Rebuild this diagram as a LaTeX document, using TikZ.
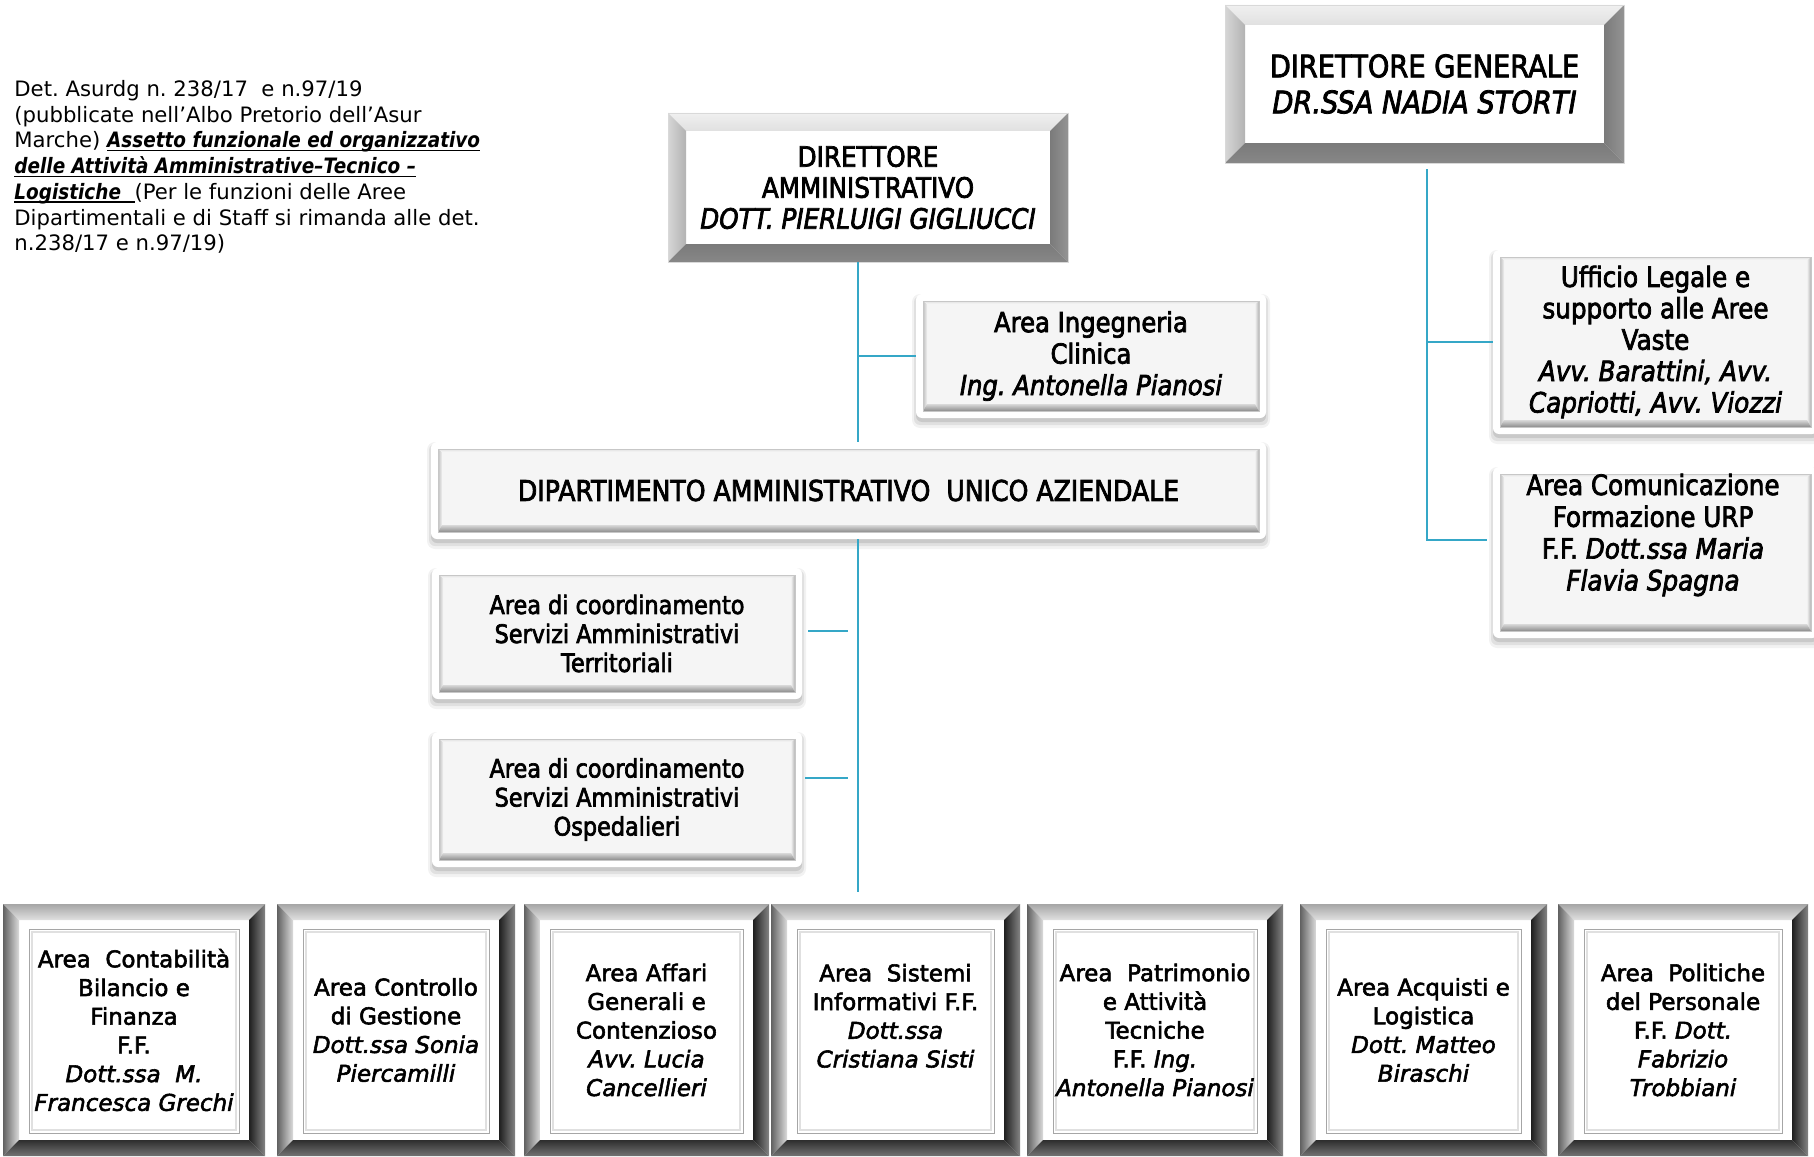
\documentclass[tikz,border=0pt]{standalone}
\usepackage{fontspec}
\setmainfont{DejaVu Sans}
\newfontfamily\condf{DejaVu Sans}[FakeStretch=0.88, FakeBold=2.6]
\newfontfamily\boxf{DejaVu Sans}[FakeBold=2.4]
\newfontfamily\embf{DejaVu Sans}[FakeStretch=0.87]
\usetikzlibrary{calc}
\pgfdeclarelayer{bg}
\pgfsetlayers{bg,main}
\definecolor{connc}{HTML}{35A7C7}
\frenchspacing
\newsavebox\ulbox
\newcommand\myul[1]{\sbox\ulbox{#1}\rlap{\rule[-1.7pt]{\wd\ulbox}{0.7pt}}\usebox\ulbox}
\newcommand\embi[1]{{\embf\bfseries\itshape #1}}

\tikzset{
  geom/.style 2 args={shape=rectangle, minimum width=#1*0.5pt, minimum height=#2*0.5pt,
     inner sep=0pt, outer sep=0pt, align=center},
  conn/.style={draw=connc, line width=1pt},
  btm/.style={font=\boxf\fontsize{11.5pt}{14.35pt}\selectfont},
  notefont/.style={font=\fontsize{10.6pt}{12.85pt}\selectfont, align=left, inner sep=0pt}
}

\newcommand\corners[2]{%
  \path (#1.north west) coordinate (o1);
  \path (#1.north east) coordinate (o2);
  \path (#1.south east) coordinate (o3);
  \path (#1.south west) coordinate (o4);
  \path ($(o1)+(#2,#2)$) coordinate (i1);
  \path ($(o2)+(-#2,#2)$) coordinate (i2);
  \path ($(o3)+(-#2,-#2)$) coordinate (i3);
  \path ($(o4)+(#2,-#2)$) coordinate (i4);
}

\newcommand\hardbevel[2]{%
  \begin{pgfonlayer}{bg}
  \corners{#1}{#2}
  \fill[white] (i1) rectangle (i3);
  \shade[top color=black!6, bottom color=black!12] (o1)--(o2)--(i2)--(i1)--cycle;
  \shade[left color=black!16, right color=black!30] (o1)--(i1)--(i4)--(o4)--cycle;
  \shade[left color=black!52, right color=black!42] (o2)--(i2)--(i3)--(o3)--cycle;
  \shade[top color=black!52, bottom color=black!47] (o4)--(i4)--(i3)--(o3)--cycle;
  \draw[black!15, line width=0.4pt] (o1) rectangle (o3);
  \end{pgfonlayer}}

\newcommand\bottomframe[1]{%
  \begin{pgfonlayer}{bg}
  \corners{#1}{16}
  \fill[white] (o1) rectangle (o3);
  \shade[top color=black!35, bottom color=black!12] (o1)--(o2)--(i2)--(i1)--cycle;
  \shade[left color=black!62, right color=black!14] (o1)--(i1)--(i4)--(o4)--cycle;
  \shade[left color=black!88, right color=black!48] (o2)--(i2)--(i3)--(o3)--cycle;
  \shade[top color=black!82, bottom color=black!55] (o4)--(i4)--(i3)--(o3)--cycle;
  \draw[black!35, line width=0.5pt] ($(o1)+(26,25)$) rectangle ($(o3)+(-26,-23)$);
  \draw[black!12, line width=1pt] ($(o1)+(29,28)$) rectangle ($(o3)+(-29,-26)$);
  \end{pgfonlayer}}

\newcommand\softpanel[1]{%
  \begin{pgfonlayer}{bg}
  \corners{#1}{7}
  \fill[black, opacity=0.05, rounded corners=4pt] ($(o1)+(-4,0)$) rectangle ($(o3)+(4,10)$);
  \fill[black, opacity=0.07, rounded corners=3pt] ($(o1)+(-2,2)$) rectangle ($(o3)+(2,7)$);
  \fill[black, opacity=0.10, rounded corners=3pt] ($(o1)+(0,3)$) rectangle ($(o3)+(0,4)$);
  \fill[white, rounded corners=3pt] (o1) rectangle (o3);
  \fill[black!4] (i1) rectangle (i3);
  \shade[left color=black!25, right color=black!5] (i1) -- ($(i1)+(4,3)$) -- ($(i4)+(4,-7)$) -- (i4) -- cycle;
  \shade[left color=black!6, right color=black!30] (i2) -- (i3) -- ($(i3)+(-4,-7)$) -- ($(i2)+(-4,3)$) -- cycle;
  \shade[top color=black!12, bottom color=black!3] (i1) -- (i2) -- ($(i2)+(-4,3)$) -- ($(i1)+(4,3)$) -- cycle;
  \shade[top color=black!15, bottom color=black!45] (i4) -- ($(i4)+(4,-7)$) -- ($(i3)+(-4,-7)$) -- (i3) -- cycle;
  \draw[black!22, line width=0.4pt] (i1) rectangle (i3);
  \end{pgfonlayer}}

\begin{document}
\begin{tikzpicture}[x=0.5pt,y=-0.5pt]
\begin{pgfonlayer}{bg}
\fill[white] (0,0) rectangle (1814,1156);
\end{pgfonlayer}
\useasboundingbox (0,0) rectangle (1814,1156);

% note
\node[notefont, anchor=north west] (note) at (14,80) {Det. Asurdg n. 238/17\ \ e n.97/19\\(pubblicate nell’Albo Pretorio dell’Asur\\Marche) \myul{\embi{Assetto funzionale ed organizzativo}}\\\myul{\embi{delle Attività Amministrative–Tecnico –}}\\\myul{\embi{Logistiche}\ \ }(Per le funzioni delle Aree\\Dipartimentali e di Staff si rimanda alle det.\\n.238/17 e n.97/19)};

% top boxes
\node[geom={399}{158}, font=\condf\fontsize{15.5pt}{18pt}\selectfont] (dg) at (1424.5,84) {DIRETTORE GENERALE\\\textit{DR.SSA NADIA STORTI}};
\hardbevel{dg}{20}

\node[geom={400}{149}, font=\condf\fontsize{14pt}{15.5pt}\selectfont] (da) at (868,187.5) {DIRETTORE\\AMMINISTRATIVO\\\textit{DOTT. PIERLUIGI GIGLIUCCI}};
\hardbevel{da}{18}

% soft panels
\node[geom={350}{124}, font=\condf\fontsize{13.8pt}{15.75pt}\selectfont] (ing) at (1091,356) {Area Ingegneria\\Clinica\\\textit{Ing. Antonella Pianosi}};
\softpanel{ing}

\node[geom={835}{97}, font=\condf\fontsize{14.3pt}{16pt}\selectfont] (daua) at (848.5,490.5) {DIPARTIMENTO AMMINISTRATIVO\ \ UNICO AZIENDALE};
\softpanel{daua}

\node[geom={370}{131}, font=\condf\fontsize{12.7pt}{14.5pt}\selectfont] (terr) at (617,633.5) {Area di coordinamento\\Servizi Amministrativi\\Territoriali};
\softpanel{terr}

\node[geom={370}{135}, font=\condf\fontsize{12.7pt}{14.5pt}\selectfont] (osp) at (617,799.5) {Area di coordinamento\\Servizi Amministrativi\\Ospedalieri};
\softpanel{osp}

\node[geom={325}{184}, font=\condf\fontsize{14pt}{15.7pt}\selectfont] (uff) at (1655.5,342) {Ufficio Legale e\\supporto alle Aree\\Vaste\\\textit{Avv. Barattini, Avv.}\\\textit{Capriotti, Avv. Viozzi}};
\softpanel{uff}

\node[geom={325}{171}] (comm) at (1655.5,552.5) {};
\softpanel{comm}
\node[font=\condf\fontsize{14pt}{15.9pt}\selectfont, align=center, inner sep=0pt] (commtxt) at (1653,535) {Area Comunicazione\\Formazione URP\\F.F. \textit{Dott.ssa Maria}\\\textit{Flavia Spagna}};

% bottom row
\node[geom={262}{252}, btm] (b1) at (134,1030) {Area\ \ Contabilità\\Bilancio e\\Finanza\\F.F.\\\textit{Dott.ssa\ \ M.}\\\textit{Francesca Grechi}};
\bottomframe{b1}
\node[geom={238}{252}, btm] (b2) at (396,1030) {Area Controllo\\di Gestione\\\textit{Dott.ssa Sonia}\\\textit{Piercamilli}};
\bottomframe{b2}
\node[geom={245}{252}, btm] (b3) at (646.5,1030) {Area Affari\\Generali e\\Contenzioso\\\textit{Avv. Lucia}\\\textit{Cancellieri}};
\bottomframe{b3}
\node[geom={249}{252}, btm] (b4) at (895.5,1030) {Area\ \ Sistemi\\Informativi F.F.\\\textit{Dott.ssa}\\\textit{Cristiana Sisti}\\\mbox{}};
\bottomframe{b4}
\node[geom={256}{252}, btm] (b5) at (1155,1030) {Area\ \ Patrimonio\\e Attività\\Tecniche\\F.F. \textit{Ing.}\\\textit{Antonella Pianosi}};
\bottomframe{b5}
\node[geom={247}{252}, btm] (b6) at (1423.5,1030) {Area Acquisti e\\Logistica\\\textit{Dott. Matteo}\\\textit{Biraschi}};
\bottomframe{b6}
\node[geom={250}{252}, btm] (b7) at (1683,1030) {Area\ \ Politiche\\del Personale\\F.F. \textit{Dott.}\\\textit{Fabrizio}\\\textit{Trobbiani}};
\bottomframe{b7}

% connectors
\coordinate (vx) at (858,0);
\coordinate (rx) at (1427,0);
\coordinate (vend) at (858,892);
\draw[conn] (da.south -| vx) -- (daua.north -| vx);
\draw[conn] (ing.west -| vx) -- (ing.west);
\draw[conn] (daua.south -| vx) -- (vend);
\draw[conn] ($(terr.east)+(6,-2.5)$) -- ($(terr.east -| vx)+(-10,-2.5)$);
\draw[conn] ($(osp.east)+(3,-21.5)$) -- ($(osp.east -| vx)+(-10,-21.5)$);
\coordinate (cstub) at ($(comm.west)+(-6,-12.5)$);
\draw[conn] ($(dg.south -| rx)+(0,6)$) -- (rx |- cstub) -- (cstub);
\draw[conn] (rx |- uff.west) -- (uff.west);
\end{tikzpicture}
\end{document}
